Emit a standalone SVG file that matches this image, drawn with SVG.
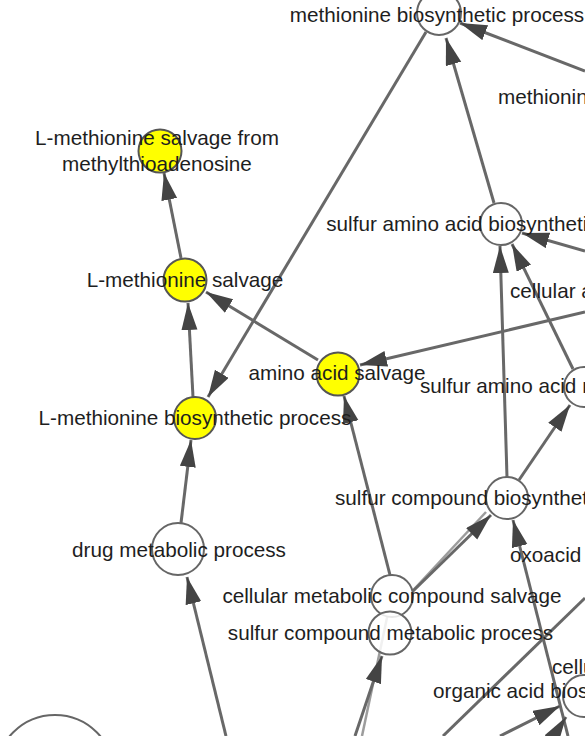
<svg xmlns="http://www.w3.org/2000/svg" width="585" height="736" viewBox="0 0 585 736">
<style>
.e{stroke:#686868;stroke-width:3;fill:none}
.a{marker-end:url(#arr)}
.lt{stroke:#9c9c9c;stroke-width:2.5;fill:none}
.nw{fill:#fff;stroke:#666;stroke-width:2}
.ny{fill:#ffff00;stroke:#555;stroke-width:2}
text{font-family:"Liberation Sans",Arial,Helvetica,sans-serif;font-size:20.7px;fill:#1e1e1e}
.c{text-anchor:middle}
.s{text-anchor:start}
</style>
<defs>
<marker id="arr" markerUnits="userSpaceOnUse" markerWidth="29" markerHeight="17" refX="27" refY="8" orient="auto">
<path d="M0,0 L27,8 L0,16 z" fill="#444"/>
</marker>
</defs>
<rect width="585" height="736" fill="#fff"/>
<g id="edges">
<line class="e a" x1="585" y1="71" x2="460" y2="23"/>
<line class="e a" x1="494" y1="203" x2="446" y2="38"/>
<line class="e a" x1="426" y1="32" x2="208" y2="397"/>
<line class="e a" x1="181" y1="258" x2="164" y2="173"/>
<line class="e a" x1="193" y1="397" x2="188" y2="303"/>
<line class="e a" x1="318" y1="360" x2="206" y2="292"/>
<line class="e a" x1="585" y1="312" x2="360" y2="365"/>
<line class="e a" x1="390" y1="575" x2="344" y2="396"/>
<line class="e a" x1="181" y1="523" x2="191" y2="440"/>
<line class="e a" x1="226" y1="736" x2="187" y2="577"/>
<line class="e a" x1="507" y1="477" x2="500" y2="246"/>
<line class="e a" x1="573" y1="369" x2="512" y2="244"/>
<line class="e a" x1="585" y1="251" x2="522" y2="233"/>
<line class="e a" x1="519" y1="480" x2="570" y2="405"/>
<line class="lt" x1="404" y1="600" x2="486" y2="512"/>
<line class="e a" x1="412" y1="592" x2="491" y2="515"/>
<line class="lt" x1="362" y1="736" x2="388" y2="613"/>
<line class="e a" x1="355" y1="736" x2="382" y2="656"/>
<line class="e a" x1="568" y1="736" x2="513" y2="520"/>
<line class="e a" x1="500" y1="736" x2="560" y2="706"/>
<line class="e a" x1="548" y1="745" x2="566" y2="717"/>
<line class="e" x1="443" y1="736" x2="585" y2="598"/>
</g>
<g id="node-bottom-left"><circle class="nw" cx="55" cy="774" r="59"/></g>
<g id="node-methionine-biosynthetic"><circle class="nw" cx="439" cy="13" r="22"/><text class="c" x="437" y="22">methionine biosynthetic process</text></g>
<g id="node-methionine-offscreen"><text class="s" x="498" y="104">methionine metabolic process</text></g>
<g id="node-sulfur-aa-biosynthetic"><circle class="nw" cx="501" cy="224" r="21"/><text class="c" x="501" y="231">sulfur amino acid biosynthetic process</text></g>
<g id="node-cellular-offscreen"><text class="s" x="510" y="298">cellular amino acid metabolic process</text></g>
<g id="node-Lmet-salvage-mta"><circle class="ny" cx="160" cy="151" r="21.5"/><text class="c" x="157" y="145">L-methionine salvage from</text><text class="c" x="157" y="171">methylthioadenosine</text></g>
<g id="node-Lmet-salvage"><circle class="ny" cx="185" cy="280" r="21.5"/><text class="c" x="185" y="287">L-methionine salvage</text></g>
<g id="node-Lmet-biosynthetic"><circle class="ny" cx="195" cy="418" r="21"/><text class="c" x="195" y="425">L-methionine biosynthetic process</text></g>
<g id="node-aa-salvage"><circle class="ny" cx="338" cy="374" r="21.5"/><text class="c" x="337" y="380">amino acid salvage</text></g>
<g id="node-sulfur-aa-metabolic"><circle class="nw" cx="584" cy="387" r="20"/><text class="s" x="420" y="393">sulfur amino acid metabolic process</text></g>
<g id="node-sulfur-compound-biosynthetic"><circle class="nw" cx="507" cy="498" r="21"/><text class="c" x="508" y="505">sulfur compound biosynthetic process</text></g>
<g id="node-drug-metabolic"><circle class="nw" cx="178" cy="549" r="26"/><text class="c" x="179" y="557">drug metabolic process</text></g>
<g id="node-oxoacid-offscreen"><text class="s" x="510" y="562">oxoacid metabolic process</text></g>
<g id="node-cellular-salvage"><circle class="nw" cx="392" cy="596" r="21"/><text class="c" x="392" y="603">cellular metabolic compound salvage</text></g>
<g id="node-sulfur-compound-metabolic"><circle cx="390" cy="633" r="21.5" fill="#fff" fill-opacity="0.85" stroke="#666" stroke-width="2"/><text class="c" x="390.5" y="640">sulfur compound metabolic process</text></g>
<g id="node-organic-acid-biosynthetic"><circle class="nw" cx="584" cy="696" r="21"/><text class="s" x="552" y="674">cellular amino acid biosynthetic process</text><text class="s" x="433" y="698">organic acid biosynthetic process</text></g>
</svg>
